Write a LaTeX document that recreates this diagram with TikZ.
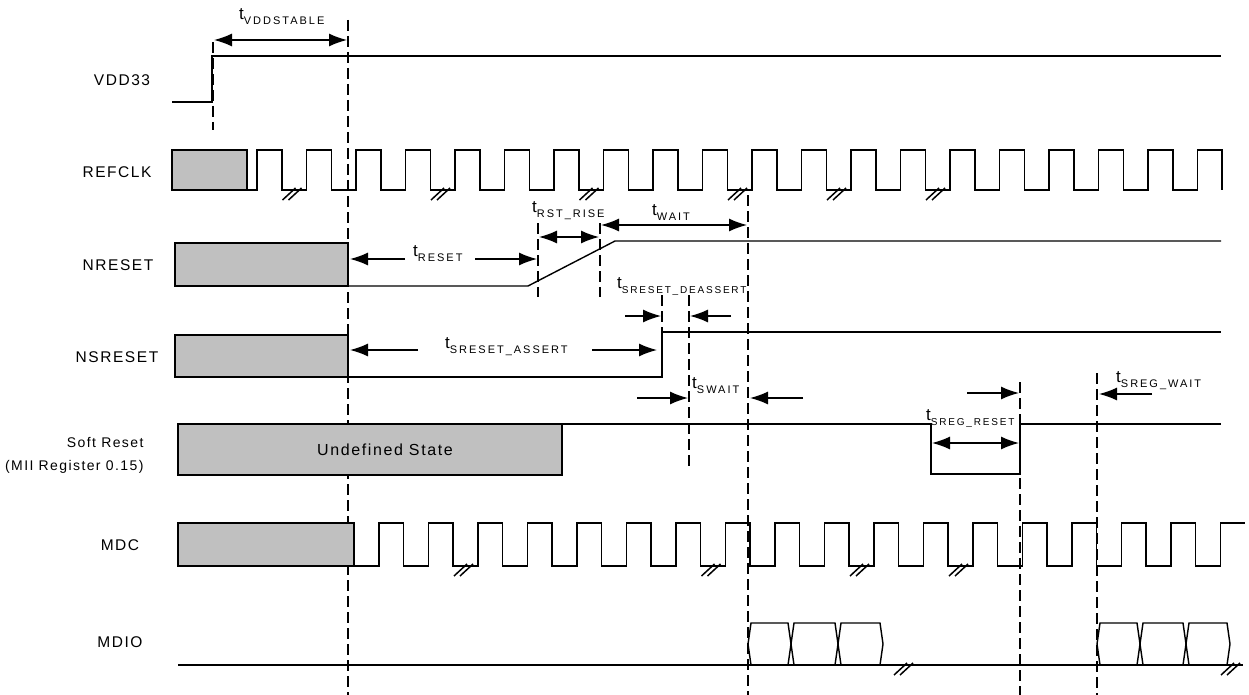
\documentclass[tikz,border=0pt]{standalone}
\usepackage{fontspec}
\setmainfont{Liberation Sans}
\newfontfamily\sigfont{Liberation Sans}[LetterSpace=10]
\newfontfamily\subfont{Liberation Sans}[LetterSpace=18]
\usetikzlibrary{arrows.meta}
\definecolor{UndefGray}{HTML}{C0C0C0}
\newcommand{\tpar}[2][11]{\fontsize{17}{17}\selectfont t\raisebox{-5pt}{\fontsize{#1}{#1}\subfont #2}}

\begin{document}
\begin{tikzpicture}[x=1pt,y=-1pt,
  sig/.style={line width=1.4pt,line join=miter},
  undef/.style={draw,line width=1.4pt,fill=UndefGray},
  marker/.style={line width=2.6pt,dash pattern=on 11pt off 5pt},
  brk/.style={line width=1.5pt},
  dim/.style={-{Latex[length=18pt,width=13pt]},line width=1.3pt},
  dimboth/.style={{Latex[length=18pt,width=13pt]}-{Latex[length=18pt,width=13pt]},line width=1.3pt},
  lbl/.style={font=\fontsize{15.5}{15.5}\sigfont},
  tlbl/.style={anchor=base west,inner sep=0pt}
]
\useasboundingbox (0,0) rectangle (1249,695);

\node[lbl] (nvdd) at (122,80) {VDD33};
\node[lbl] (nref) at (117,172) {REFCLK};
\node[lbl] (nrst) at (118,265) {NRESET};
\node[lbl] (nsrst) at (117,357) {NSRESET};
\node[anchor=east,align=right,font=\fontsize{14}{23}\sigfont] (nsoft) at (147,455) {Soft Reset\\(MII Register 0.15)};
\node[lbl] (nmdc) at (120,545) {MDC};
\node[lbl] (nmdio) at (120,642) {MDIO};

\draw[marker] (213,42) -- (213,130);
\draw[marker] (348,20) -- (348,695);
\draw[marker] (538,223) -- (538,297);
\draw[marker] (600,223) -- (600,297);
\draw[marker] (662,295) -- (662,377);
\draw[marker] (689,295) -- (689,468);
\draw[marker] (748,195) -- (748,695);
\draw[marker] (1020,382) -- (1020,695);
\draw[marker] (1097,373) -- (1097,695);

\draw[sig] (172,102) -- (212,102) -- (212,56) -- (1221,56);

\draw[undef] (172,150) rectangle (247,190);
\draw[sig] (247,190) foreach \k in {0,...,18} { -- ({257+49.5*\k},190) -- ++(0,-40) -- ++(25,0) -- ++(0,40) }
  -- (1197.5,190) -- ++(0,-40) -- ++(24.5,0) -- ++(0,40);
\foreach \r in {306.5,455,603.5,752,851,950}
  \draw[brk] ({\r-24},200) -- ++(13,-12) ++(-7,12) -- ++(13,-12);

\draw[undef] (175,243) rectangle (348,286);
\draw[sig] (348,286) -- (528,286) -- (615,241) -- (1221,241);

\draw[undef] (175,335) rectangle (348,377);
\draw[sig] (348,377) -- (662,377) -- (662,332) -- (1221,332);

\draw[undef] (178,424) rectangle (562,475);
\node[font=\fontsize{16}{16}\sigfont] (undef) at (385,450) {Undefined State};
\draw[sig] (562,424) -- (931,424) -- (931,474) -- (1020,474) -- (1020,424) -- (1221,424);

\draw[undef] (178,523) rectangle (354,566);
\draw[sig] (354,566) foreach \k in {0,...,16} { -- ({379+49.5*\k},566) -- ++(0,-43) -- ++(24.5,0) -- ++(0,43) }
  -- (1220.5,566) -- ++(0,-43) -- (1245,523);
\foreach \r in {478,725.5,874,973}
  \draw[brk] ({\r-24},576) -- ++(13,-12) ++(-7,12) -- ++(13,-12);

\draw[sig] (178,665) -- (1243,665);
\foreach \a/\b in {748/791,791/838,838/883,1097/1140,1140/1186,1186/1230}
  \draw[sig] (\a,644) -- ({\a+3},623) -- ({\b-3},623) -- (\b,644) -- ({\b-3},665) -- ({\a+3},665) -- cycle;
\foreach \r in {918,1245}
  \draw[brk] ({\r-24},675) -- ++(13,-12) ++(-7,12) -- ++(13,-12);

\draw[dimboth] (214,40) -- (347,40);
\draw[dim] (405,259) -- (350,259);
\draw[dim] (475,259) -- (537,259);
\draw[dimboth] (539,237) -- (599,237);
\draw[dimboth] (601,225) -- (747,225);
\draw[dim] (418,350) -- (350,350);
\draw[dim] (592,350) -- (657,350);
\draw[dim] (625,316) -- (661,316);
\draw[dim] (731,316) -- (690,316);
\draw[dim] (637,398) -- (688,398);
\draw[dim] (803,398) -- (750,398);
\draw[dimboth] (932,443) -- (1019,443);
\draw[dim] (967,393) -- (1019,393);
\draw[dim] (1152,394) -- (1099,394);

\node[tlbl] (tvdd) at (239,20) {\tpar{VDDSTABLE}};
\node[tlbl] (treset) at (413,256) {\tpar{RESET}};
\node[tlbl] (trise) at (532,212) {\tpar{RST\_RISE}};
\node[tlbl] (twait) at (652,215) {\tpar{WAIT}};
\node[tlbl] (tassert) at (445,348) {\tpar{SRESET\_ASSERT}};
\node[tlbl] (tdeassert) at (617,288) {\tpar[10]{SRESET\_DEASSERT}};
\node[tlbl] (tswait) at (692,388) {\tpar{SWAIT}};
\node[tlbl] (tsreg) at (926,420) {\tpar[10]{SREG\_RESET}};
\node[tlbl] (tsregw) at (1116,382) {\tpar{SREG\_WAIT}};
\end{tikzpicture}
\end{document}
